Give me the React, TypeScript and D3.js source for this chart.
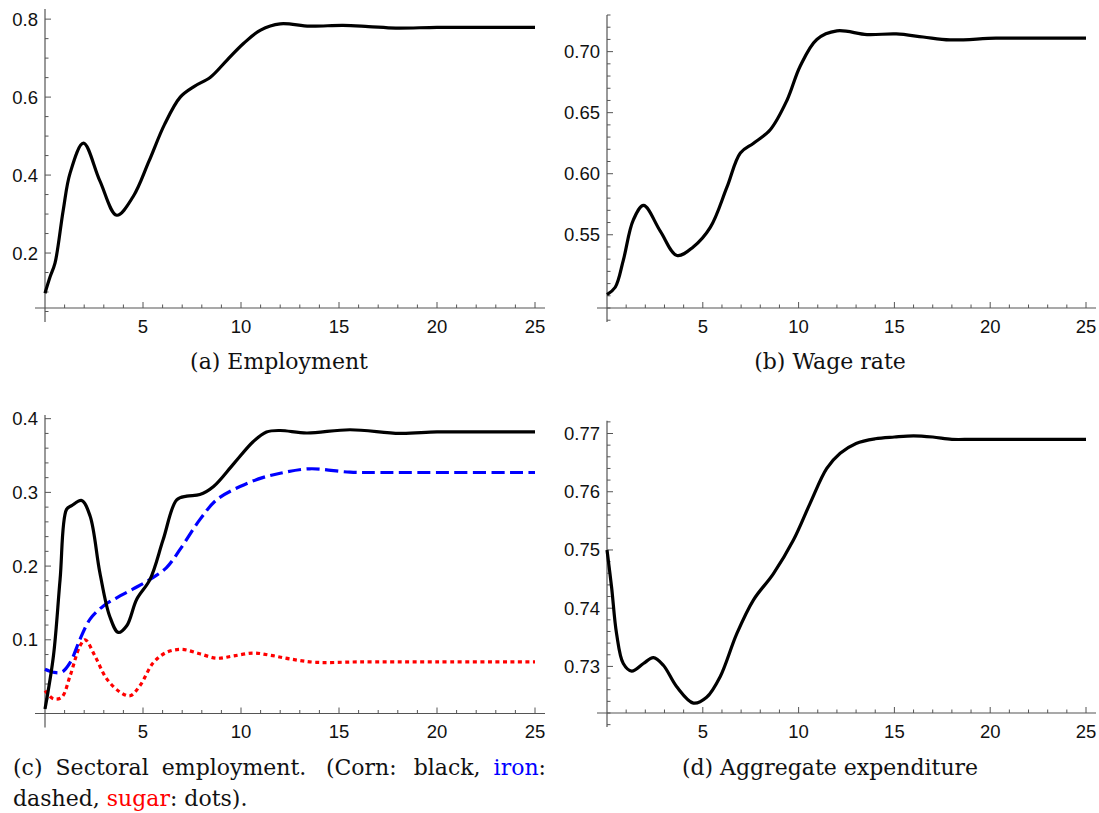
import React from "react";
import * as d3 from "d3";

// ---------- Data ----------
// (a) Employment
const empT = [0, 0.26, 0.51, 0.93, 1.28, 1.96, 2.8, 3.66, 4.5, 5.3, 6.1, 6.9, 7.6, 8.44, 9.29, 10.14, 11.0, 12.0, 13.5, 15.2, 16.5, 17.9, 20, 22.5, 25];
const empV = [0.097, 0.139, 0.174, 0.31, 0.405, 0.482, 0.385, 0.297, 0.345, 0.435, 0.53, 0.6, 0.627, 0.651, 0.695, 0.738, 0.772, 0.788, 0.782, 0.784, 0.781, 0.777, 0.779, 0.779, 0.779];

// (b) Wage rate
const wageT = [0, 0.43, 0.85, 1.37, 1.91, 2.78, 3.65, 4.5, 5.39, 6.26, 6.96, 7.65, 8.52, 9.39, 10.08, 10.95, 12.0, 13.57, 15.1, 16.5, 17.9, 20.3, 22.5, 25];
const wageV = [0.501, 0.507, 0.529, 0.562, 0.574, 0.553, 0.533, 0.54, 0.556, 0.589, 0.617, 0.625, 0.636, 0.66, 0.688, 0.71, 0.717, 0.714, 0.7145, 0.712, 0.7096, 0.711, 0.711, 0.711];

// (c) Sectoral employment
const cornT = [0, 0.43, 0.77, 1.1, 1.36, 1.87, 2.3, 2.8, 3.3, 3.74, 4.17, 4.68, 5.36, 6.03, 6.72, 7.23, 7.9, 8.6, 9.6, 10.63, 11.3, 12.0, 13.35, 15.56, 18.1, 20, 22.5, 25];
const cornV = [0.006, 0.078, 0.182, 0.277, 0.282, 0.289, 0.268, 0.191, 0.132, 0.11, 0.119, 0.155, 0.182, 0.236, 0.29, 0.295, 0.297, 0.308, 0.338, 0.369, 0.382, 0.384, 0.3806, 0.385, 0.38, 0.382, 0.382, 0.382];
const ironT = [0, 0.43, 0.85, 1.28, 1.79, 2.3, 2.98, 3.66, 4.5, 5.36, 6.2, 6.9, 7.9, 8.76, 9.95, 11.1, 12.0, 13.5, 15.56, 17.1, 20, 25];
const ironV = [0.06, 0.056, 0.056, 0.069, 0.101, 0.128, 0.146, 0.157, 0.169, 0.182, 0.198, 0.223, 0.263, 0.29, 0.308, 0.32, 0.326, 0.332, 0.3274, 0.327, 0.327, 0.327];
const sugarT = [0, 0.43, 0.85, 1.28, 1.79, 2.05, 2.55, 3.15, 3.83, 4.34, 4.85, 5.53, 6.2, 6.97, 7.9, 8.76, 9.6, 10.63, 11.5, 12.5, 13.86, 16, 20, 25];
const sugarV = [0.031, 0.02, 0.022, 0.051, 0.092, 0.1, 0.078, 0.047, 0.029, 0.024, 0.038, 0.069, 0.083, 0.087, 0.081, 0.075, 0.078, 0.082, 0.079, 0.074, 0.0694, 0.07, 0.07, 0.07];

// (d) Aggregate expenditure
const aggT = [0, 0.24, 0.5, 0.85, 1.29, 1.9, 2.42, 2.94, 3.64, 4.51, 5.2, 5.9, 6.77, 7.64, 8.68, 9.73, 10.6, 11.47, 12.17, 13, 14, 15, 16, 17, 18, 19, 20, 22.5, 25];
const aggV = [0.75, 0.7436, 0.7356, 0.7305, 0.7292, 0.7305, 0.7315, 0.7302, 0.7265, 0.7237, 0.7247, 0.7282, 0.7356, 0.7414, 0.7459, 0.7517, 0.758, 0.764, 0.7666, 0.7683, 0.7691, 0.7694, 0.7696, 0.7694, 0.769, 0.769, 0.769, 0.769, 0.769];

// Ticks
const xTicks = [5, 10, 15, 20, 25];
const yTicksA = [0.2, 0.4, 0.6, 0.8];
const yTicksB = [0.55, 0.6, 0.65, 0.7];
const yTicksC = [0.1, 0.2, 0.3, 0.4];
const yTicksD = [0.73, 0.74, 0.75, 0.76, 0.77];

// ---------- Drawing ----------
const TICK_FONT = "'Liberation Sans', Arial, sans-serif";
const TICK_SIZE = 18.5;
const CAP_FONT = "'DejaVu Serif', serif";
const CAP_SIZE = 22;
const AXIS_COLOR = "#555";

type Series = { t: number[]; v: number[]; color: string; dash?: string; width?: number };

type PanelProps = {
  px0: number;
  px1: number;
  pyBottom: number;
  pyTop: number;
  yDomain: [number, number];
  yMajors: number[];
  yMinorStep: number;
  yFmt: (v: number) => string;
  series: Series[];
};

function Panel(p: PanelProps) {
  const x = d3.scaleLinear().domain([0, 25]).range([p.px0, p.px1]);
  const y = d3.scaleLinear().domain(p.yDomain).range([p.pyBottom, p.pyTop]);
  const ext = 14;
  const yLow = y.invert(p.pyBottom + ext);
  const yHigh = p.yDomain[1];
  const minors: number[] = [];
  const start = Math.ceil(yLow / p.yMinorStep - 1e-6);
  const end = Math.floor(yHigh / p.yMinorStep + 1e-6);
  for (let i = start; i <= end; i++) {
    const v = Math.round(i * p.yMinorStep * 1e6) / 1e6;
    if (!p.yMajors.some((m) => Math.abs(m - v) < 1e-7)) minors.push(v);
  }
  const xMinors = d3.range(1, 26).filter((v) => v % 5 !== 0);
  const line = d3
    .line<[number, number]>()
    .x((d) => x(d[0]))
    .y((d) => y(d[1]))
    .curve(d3.curveCatmullRom.alpha(0.5));
  const axisX = x(0);
  return (
    <g>
      <line x1={axisX - 10} x2={x(25) + 10} y1={p.pyBottom} y2={p.pyBottom} stroke={AXIS_COLOR} strokeWidth={1.2} />
      {xMinors.map((v) => (
        <line key={"xm" + v} x1={x(v)} x2={x(v)} y1={p.pyBottom} y2={p.pyBottom - 3.5} stroke={AXIS_COLOR} strokeWidth={1} />
      ))}
      {xTicks.map((v) => (
        <g key={"xM" + v}>
          <line x1={x(v)} x2={x(v)} y1={p.pyBottom} y2={p.pyBottom - 6} stroke={AXIS_COLOR} strokeWidth={1} />
          <text x={x(v)} y={p.pyBottom + 18} textAnchor="middle" dominantBaseline="central" fontFamily={TICK_FONT} fontSize={TICK_SIZE} fill="#111">
            {v}
          </text>
        </g>
      ))}
      <line x1={axisX} x2={axisX} y1={p.pyTop} y2={p.pyBottom + ext} stroke={AXIS_COLOR} strokeWidth={1.2} />
      {minors.map((v) => (
        <line key={"ym" + v} x1={axisX} x2={axisX + 3.5} y1={y(v)} y2={y(v)} stroke={AXIS_COLOR} strokeWidth={1} />
      ))}
      {p.yMajors.map((v) => (
        <g key={"yM" + v}>
          <line x1={axisX} x2={axisX + 6} y1={y(v)} y2={y(v)} stroke={AXIS_COLOR} strokeWidth={1} />
          <text x={axisX - 7} y={y(v)} textAnchor="end" dominantBaseline="central" fontFamily={TICK_FONT} fontSize={TICK_SIZE} fill="#111">
            {p.yFmt(v)}
          </text>
        </g>
      ))}
      {p.series.map((s, i) => (
        <path
          key={i}
          d={line(s.t.map((t, j) => [t, s.v[j]] as [number, number])) || ""}
          fill="none"
          stroke={s.color}
          strokeWidth={s.width ?? 3.2}
          strokeDasharray={s.dash}
          strokeLinejoin="round"
        />
      ))}
    </g>
  );
}

function measure(text: string, font: string): number {
  const c = document.createElement("canvas");
  const ctx = c.getContext("2d");
  if (!ctx) return text.length * 10;
  ctx.font = font;
  return ctx.measureText(text).width;
}

function CaptionC() {
  const fs = CAP_SIZE;
  const font = `${fs}px 'DejaVu Serif'`;
  const words = ["(c)", "Sectoral", "employment.", "(Corn:", "black,", "iron:"];
  const weights = [1, 1, 1.5, 1.3, 1];
  const left = 13;
  const right = 546;
  const widths = words.map((w) => measure(w, font));
  const totalW = d3.sum(widths);
  const unit = (right - left - totalW) / d3.sum(weights);
  const xs: number[] = [];
  let cx = left;
  words.forEach((w, i) => {
    xs.push(cx);
    cx += widths[i] + (i < weights.length ? weights[i] * unit : 0);
  });
  return (
    <g fontFamily={CAP_FONT} fontSize={fs} fill="#111">
      {words.slice(0, 5).map((w, i) => (
        <text key={i} x={xs[i]} y={775}>
          {w}
        </text>
      ))}
      <text x={xs[5]} y={775}>
        <tspan fill="#0000ff">iron</tspan>
        <tspan>:</tspan>
      </text>
      <text x={left} y={806}>
        <tspan>dashed, </tspan>
        <tspan fill="#ff0000">sugar</tspan>
        <tspan>: dots).</tspan>
      </text>
    </g>
  );
}

export default function App() {
  const f1 = d3.format(".1f");
  const f2 = d3.format(".2f");
  return (
    <svg width={1099} height={813} style={{ position: "absolute", left: 0, top: 0, background: "#fff" }}>
      <rect width={1099} height={813} fill="#fff" />
      <Panel
        px0={45}
        px1={535}
        pyBottom={308}
        pyTop={9}
        yDomain={[0.059, 0.826]}
        yMajors={yTicksA}
        yMinorStep={0.05}
        yFmt={f1}
        series={[{ t: empT, v: empV, color: "#000" }]}
      />
      <Panel
        px0={607}
        px1={1086}
        pyBottom={308}
        pyTop={15}
        yDomain={[0.49, 0.73]}
        yMajors={yTicksB}
        yMinorStep={0.01}
        yFmt={f2}
        series={[{ t: wageT, v: wageV, color: "#000" }]}
      />
      <Panel
        px0={45}
        px1={535}
        pyBottom={713.5}
        pyTop={415}
        yDomain={[0.0, 0.405]}
        yMajors={yTicksC}
        yMinorStep={0.02}
        yFmt={f1}
        series={[
          { t: sugarT, v: sugarV, color: "#ff0000", dash: "4 3.5" },
          { t: ironT, v: ironV, color: "#0000ff", dash: "13 5.5" },
          { t: cornT, v: cornV, color: "#000" },
        ]}
      />
      <Panel
        px0={607}
        px1={1086}
        pyBottom={713}
        pyTop={420.7}
        yDomain={[0.722, 0.7722]}
        yMajors={yTicksD}
        yMinorStep={0.002}
        yFmt={f2}
        series={[{ t: aggT, v: aggV, color: "#000" }]}
      />
      <g fontFamily={CAP_FONT} fontSize={CAP_SIZE} fill="#111" textAnchor="middle">
        <text x={279} y={369}>(a) Employment</text>
        <text x={830} y={369}>(b) Wage rate</text>
        <text x={830} y={775}>(d) Aggregate expenditure</text>
      </g>
      <CaptionC />
    </svg>
  );
}
